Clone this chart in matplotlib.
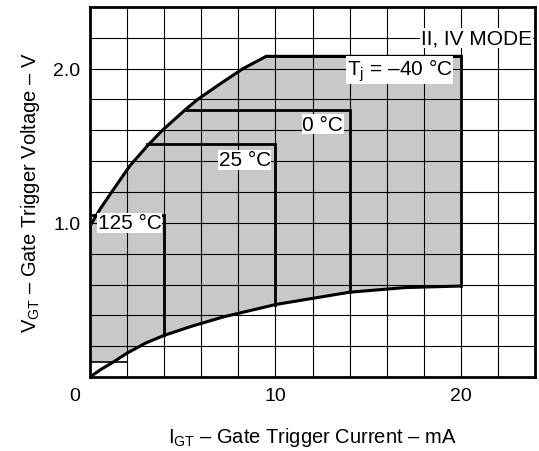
import numpy as np
import matplotlib
matplotlib.use('Agg')
import matplotlib.pyplot as plt
from matplotlib.ticker import MultipleLocator, FixedLocator

plt.rcParams['font.family'] = ['Liberation Sans', 'DejaVu Sans']
plt.rcParams['mathtext.fontset'] = 'custom'
plt.rcParams['mathtext.rm'] = 'Liberation Sans'
plt.rcParams['mathtext.it'] = 'Liberation Sans'

# upper envelope (left / top edge of the shaded area)
upper_i = [0, 0.55, 1.17, 2.15, 3.1, 3.9, 5.2, 5.8, 7.0, 8.25, 9.5]
upper_v = [0.98, 1.09, 1.2, 1.37, 1.5, 1.6, 1.74, 1.8, 1.9, 2.0, 2.08]

# lower curve (bottom edge of the shaded area)
lower_i = [0, 0.6, 1.3, 2.0, 3.0, 4.0, 5.5, 7.2, 10.0, 14.0, 17.0, 20.0]
lower_v = [0, 0.05, 0.10, 0.155, 0.22, 0.27, 0.33, 0.39, 0.47, 0.55, 0.58, 0.59]

# temperature steps
temp_labels = ['125 °C', '25 °C', '0 °C', 'T$_\\mathregular{j}$ = –40 °C']
step_v = [1.05, 1.51, 1.73, 2.08]
step_i0 = [0, 3.1, 5.2, 9.5]
step_i1 = [4, 10, 14, 20]
step_vlow = [0.27, 0.47, 0.55, 0.59]
label_i = [3.85, 9.75, 13.65, 19.55]
label_v = [1.0, 1.41, 1.64, 1.99]

floor_v = 0.1
floor_i = 2.0

fig = plt.figure(figsize=(5.39, 4.52), dpi=100)
ax = fig.add_axes([90 / 539, 1 - 378 / 452, 445 / 539, 370 / 452])

ax.set_xlim(0, 24)
ax.set_ylim(0, 2.4)

# shaded region
low_keep = [(p, q) for p, q in zip(lower_i, lower_v) if q >= floor_v]
poly_i = upper_i + [step_i1[-1]] + [p for p, q in low_keep[::-1]] + [0]
poly_v = upper_v + [step_v[-1]] + [q for p, q in low_keep[::-1]] + [floor_v]
ax.fill(poly_i, poly_v, color='#c8c8c8', lw=0, zorder=1)

# grid
ax.xaxis.set_major_locator(FixedLocator([0, 10, 20]))
ax.yaxis.set_major_locator(FixedLocator([1.0, 2.0]))
ax.xaxis.set_minor_locator(MultipleLocator(2))
ax.yaxis.set_minor_locator(MultipleLocator(0.2))
ax.grid(True, which='both', color='black', linewidth=0.8)
ax.set_axisbelow(False)
ax.tick_params(which='both', length=0, labelsize=14, pad=7, colors='black')
ax.set_xticklabels(['', '10', '20'])
ax.set_yticklabels(['1.0', '2.0'])
ax.annotate('0', xy=(0, 0), xytext=(-11, -13), textcoords='offset points',
            ha='center', va='center', fontsize=14)

# curves
ax.plot(upper_i + [step_i1[-1]], upper_v + [step_v[-1]], color='black', lw=2.2, zorder=3)
ax.plot(lower_i, lower_v, color='black', lw=2.2, zorder=3)
ax.plot([0, floor_i], [floor_v, floor_v], color='black', lw=1.2, zorder=3)

for v, i0, i1, vl in zip(step_v, step_i0, step_i1, step_vlow):
    ax.plot([i0, i1, i1], [v, v, vl], color='black', lw=2.0, zorder=3,
            solid_joinstyle='miter')

for txt, xi, yv in zip(temp_labels, label_i, label_v):
    ax.text(xi, yv, txt, fontsize=15, ha='right', va='center', zorder=5,
            bbox=dict(facecolor='white', edgecolor='none', pad=0.5))

ax.text(23.85, 2.2, 'II, IV MODE', fontsize=15, ha='right', va='center', zorder=5,
        bbox=dict(facecolor='white', edgecolor='none', pad=0.5))

for s in ax.spines.values():
    s.set_linewidth(2.0)
    s.set_zorder(6)

ax.set_xlabel('I$_\\mathregular{GT}$ – Gate Trigger Current – mA', fontsize=14.5, labelpad=15)
ax.set_ylabel('V$_\\mathregular{GT}$ – Gate Trigger Voltage – V', fontsize=14.5, labelpad=8)

fig.savefig('out.png', dpi=100)
